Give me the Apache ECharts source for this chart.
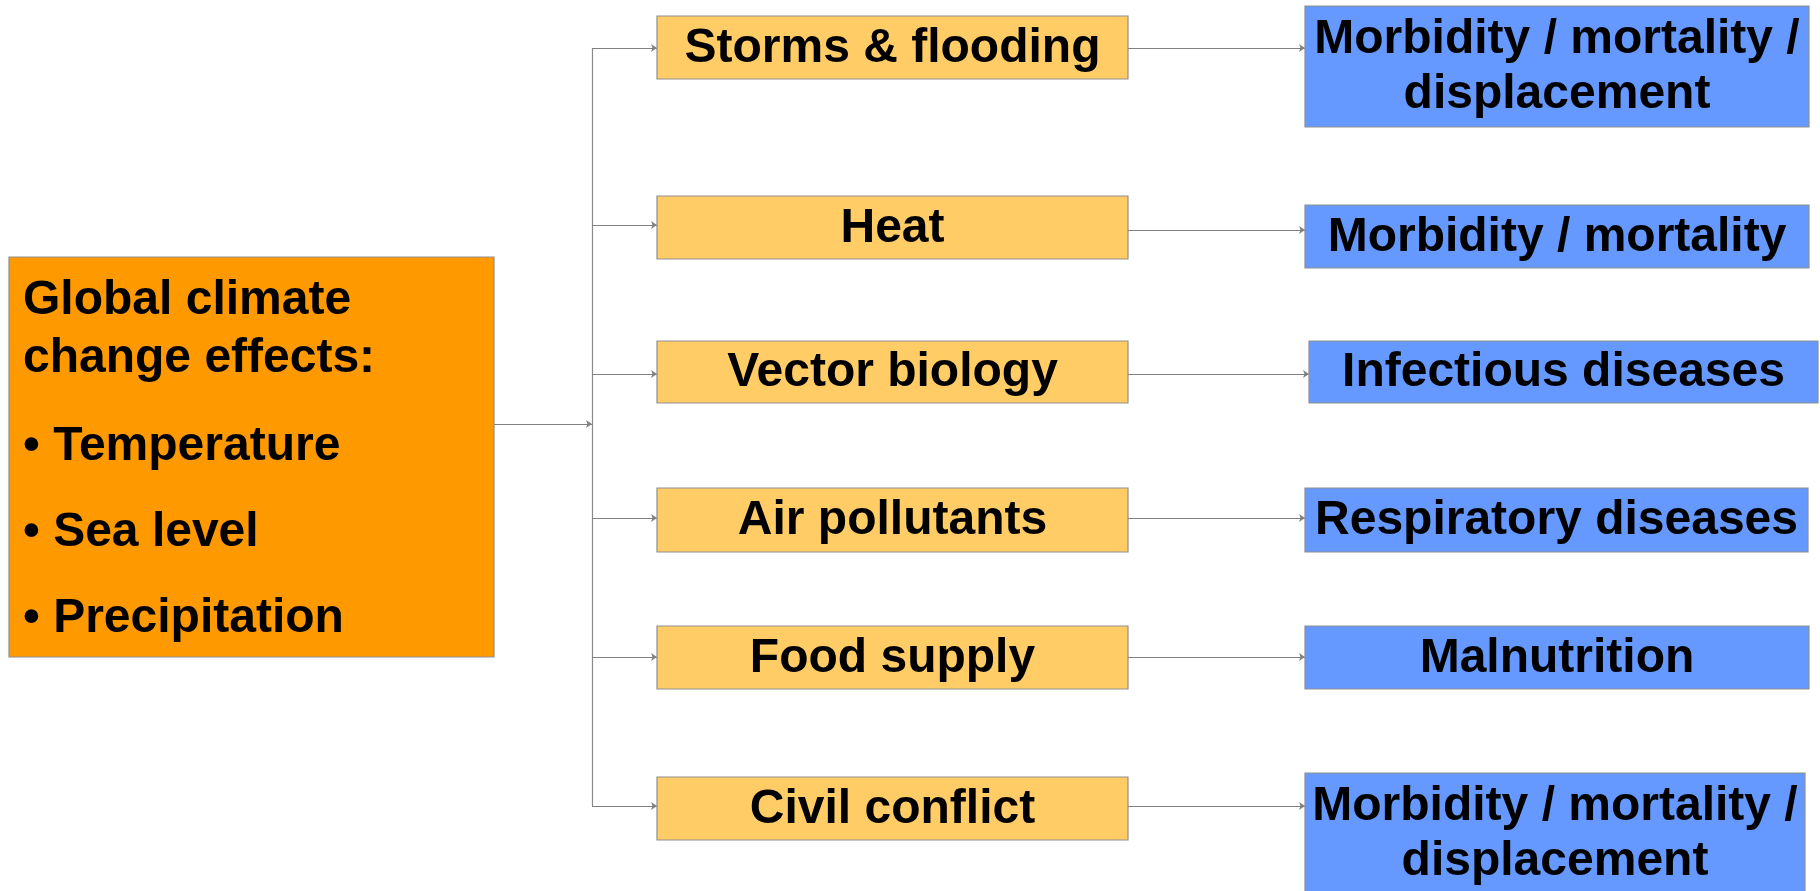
<!DOCTYPE html>
<html>
<head>
<meta charset="utf-8">
<script src="https://cdn.jsdelivr.net/npm/echarts@6/dist/echarts.min.js"></script>
<style>
html,body{margin:0;padding:0;background:#fff;}
#chart{width:1820px;height:891px;}
</style>
</head>
<body>
<div id="chart"></div>
<script>
// ---- content ----
const mainLines = ['Global climate', 'change effects:', '\u2022 Temperature', '\u2022 Sea level', '\u2022 Precipitation'];
const causes = ['Storms & flooding', 'Heat', 'Vector biology', 'Air pollutants', 'Food supply', 'Civil conflict'];
const outcomes = [
  'Morbidity / mortality /\ndisplacement',
  'Morbidity / mortality',
  'Infectious diseases',
  'Respiratory diseases',
  'Malnutrition',
  'Morbidity / mortality /\ndisplacement'
];

// ---- layout (diagram units = pixels on hidden axes) ----
const mainBox = [9, 257, 494, 657];
const mainLineBaselines = [316, 374, 462, 548, 634];
const mainTextX = 23;
const causeCol = [657, 1128];
const causeRows = [[16, 79], [196, 259], [341, 403], [488, 552], [626, 689], [777, 840]];
const outcomeCols = [[1305, 1809], [1305, 1809], [1309, 1818], [1305, 1808], [1305, 1809], [1305, 1805]];
const outcomeRows = [[6, 127], [205, 268], [341, 403], [488, 552], [626, 689], [773, 894]];
const trunkX = 592;
const mainLinkY = 424;
const linkInY = [48, 225, 374, 518, 657, 806];
const linkOutY = [48, 230, 374, 518, 657, 806];

const FONT = 'bold 48px "Liberation Sans", Arial, sans-serif';

function boxRender(fill, texts) {
  return function (params, api) {
    const p0 = api.coord([api.value(0), api.value(1)]);
    const p1 = api.coord([api.value(2), api.value(3)]);
    const idx = api.value(4);
    return {
      type: 'group',
      children: [
        { type: 'rect', shape: { x: p0[0], y: p0[1], width: p1[0] - p0[0], height: p1[1] - p0[1] },
          style: { fill: fill, stroke: '#8f8f8f', lineWidth: 1.2 } },
        texts ? { type: 'text', style: { x: (p0[0] + p1[0]) / 2, y: (p0[1] + p1[1]) / 2 + 1, text: texts[idx],
          font: FONT, fill: '#000', align: 'center', verticalAlign: 'middle', lineHeight: 55 } } : null
      ].filter(Boolean)
    };
  };
}

const causeData = causes.map((c, i) => [causeCol[0], causeRows[i][0], causeCol[1], causeRows[i][1], i]);
const outcomeData = outcomes.map((c, i) => [outcomeCols[i][0], outcomeRows[i][0], outcomeCols[i][1], outcomeRows[i][1], i]);
const mainTextData = mainLines.map((t, i) => [mainTextX, mainLineBaselines[i], i]);

const linkData = [];
linkData.push({ coords: [[mainBox[2], mainLinkY], [trunkX, mainLinkY]] });
causes.forEach((c, i) => {
  linkData.push({ coords: [[trunkX, linkInY[i]], [causeCol[0], linkInY[i]]] });
  linkData.push({ coords: [[causeCol[1], linkOutY[i]], [outcomeCols[i][0], linkOutY[i]]] });
});
const trunkData = [{ coords: [[trunkX, linkInY[0]], [trunkX, linkInY[linkInY.length - 1]]] }];

const chart = echarts.init(document.getElementById('chart'));
chart.setOption({
  animation: false,
  backgroundColor: '#ffffff',
  grid: { left: 0, right: 0, top: 0, bottom: 0 },
  xAxis: { type: 'value', min: 0, max: 1820, show: false },
  yAxis: { type: 'value', min: 0, max: 891, inverse: true, show: false },
  series: [
    {
      type: 'lines', coordinateSystem: 'cartesian2d', silent: true, z: 1,
      symbol: ['none', 'none'],
      lineStyle: { color: '#8a8a8a', width: 1.2, opacity: 1 },
      data: trunkData
    },
    {
      type: 'lines', coordinateSystem: 'cartesian2d', silent: true, z: 1,
      symbol: ['none', 'arrow'], symbolSize: 6,
      lineStyle: { color: '#808080', width: 1.2, opacity: 1 },
      itemStyle: { color: '#333' },
      data: linkData
    },
    {
      type: 'custom', coordinateSystem: 'cartesian2d', silent: true, z: 2,
      renderItem: boxRender('#FF9900', null),
      data: [[mainBox[0], mainBox[1], mainBox[2], mainBox[3], 0]]
    },
    {
      type: 'custom', coordinateSystem: 'cartesian2d', silent: true, z: 3,
      renderItem: function (params, api) {
        const p = api.coord([api.value(0), api.value(1)]);
        return { type: 'text', style: { x: p[0], y: p[1] - 15, text: mainLines[api.value(2)], font: FONT,
          fill: '#000', align: 'left', verticalAlign: 'middle', lineHeight: 55 } };
      },
      data: mainTextData
    },
    {
      type: 'custom', coordinateSystem: 'cartesian2d', silent: true, z: 2,
      renderItem: boxRender('#FFCC66', causes),
      data: causeData
    },
    {
      type: 'custom', coordinateSystem: 'cartesian2d', silent: true, z: 2,
      renderItem: boxRender('#6699FF', outcomes),
      data: outcomeData
    }
  ]
});
</script>
</body>
</html>
